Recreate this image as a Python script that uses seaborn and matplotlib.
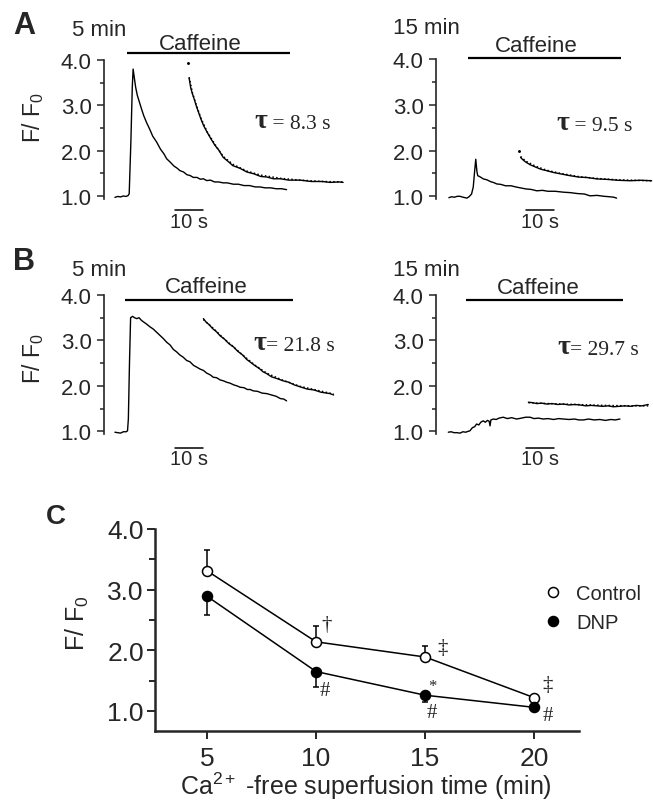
import numpy as np
import pandas as pd
import seaborn as sns
import matplotlib.pyplot as plt
from matplotlib.lines import Line2D

W, H = 653, 804
PX_PER_S = 2.8

# ---------------- traces (time in s, value F/F0) ----------------
# A, 5 min
a5_t = [3.9, 4.9, 5.9, 6.9, 7.9, 8.6, 9.0, 9.6, 10.1, 10.4, 10.8, 11.3, 11.9, 12.6, 13.4,
        14.2, 15.2, 16.2, 17.4, 18.8, 20.2, 21.4, 22.4, 23.6, 25.0, 26.2, 27.1, 28.4, 29.6,
        30.8, 31.9, 33.2, 34.4, 35.5, 36.7, 38.0, 39.5, 41.0, 42.5, 44.0, 46.2, 48.0, 50.0,
        52.0, 54.0, 55.7, 57.5, 59.5, 61.5, 63.5, 65.2]
a5_v = [0.97, 0.99, 0.98, 1.00, 0.99, 1.01, 1.05, 2.20, 3.40, 3.80, 3.62, 3.40, 3.22, 3.08, 2.92,
        2.77, 2.62, 2.49, 2.32, 2.19, 2.03, 1.93, 1.82, 1.75, 1.66, 1.61, 1.56, 1.53, 1.47,
        1.45, 1.41, 1.41, 1.37, 1.38, 1.34, 1.35, 1.31, 1.31, 1.29, 1.29, 1.26, 1.26, 1.23,
        1.23, 1.20, 1.20, 1.18, 1.18, 1.16, 1.16, 1.14]
a5_shift_t = [30.4, 31.0, 31.6, 32.2, 33.0, 33.8, 34.6, 35.6, 36.8, 38.2, 39.6, 41.0, 42.6,
              44.2, 46.0, 48.6, 51.0, 53.5, 56.0, 58.1, 60.5, 63.0, 66.0, 70.0, 74.0, 78.0,
              80.7, 84.0, 85.4]
a5_shift_v = [3.60, 3.38, 3.25, 3.14, 2.98, 2.84, 2.70, 2.55, 2.41, 2.26, 2.12, 2.01, 1.85,
              1.77, 1.67, 1.61, 1.53, 1.49, 1.43, 1.42, 1.38, 1.38, 1.35, 1.35, 1.32, 1.32,
              1.30, 1.31, 1.30]
a5_fit_t = [30.4, 31.6, 33.0, 34.6, 36.8, 39.6, 42.6, 46.0, 51.0, 56.0, 63.0, 70.0, 78.0, 85.4]
a5_fit_v = [3.62, 3.27, 3.00, 2.72, 2.42, 2.14, 1.87, 1.70, 1.55, 1.46, 1.39, 1.35, 1.32, 1.31]
a5_dot = (29.9, 3.93)

# A, 15 min
a15_t = [4.6, 5.6, 6.6, 7.6, 8.6, 9.6, 10.4, 11.0, 11.8, 12.7, 13.3, 13.8, 14.2, 14.6, 14.9,
         15.6, 16.9, 18.2, 19.5, 20.6, 21.7, 23.2, 24.8, 26.8, 28.8, 30.5, 32.2, 34.0, 36.0,
         38.0, 40.0, 42.5, 45.5, 48.0, 50.5, 53.0, 55.0, 57.5, 60.0, 62.0, 63.5, 64.5]
a15_v = [0.97, 0.99, 0.98, 1.00, 1.00, 0.98, 0.97, 0.96, 0.99, 1.05, 1.20, 1.55, 1.81, 1.55, 1.45,
         1.43, 1.38, 1.36, 1.32, 1.30, 1.27, 1.26, 1.23, 1.23, 1.20, 1.18, 1.16, 1.15, 1.12,
         1.13, 1.11, 1.11, 1.09, 1.08, 1.06, 1.05, 1.01, 1.02, 1.00, 0.99, 0.98, 0.96]
a15_shift_t = [30.2, 31.0, 32.0, 33.6, 35.5, 37.5, 39.5, 42.0, 44.5, 47.9, 51.0, 54.0, 57.4,
               61.0, 65.0, 69.3, 73.0, 77.0]
a15_shift_v = [1.85, 1.80, 1.75, 1.69, 1.64, 1.59, 1.56, 1.52, 1.49, 1.45, 1.42, 1.41, 1.38,
               1.37, 1.35, 1.34, 1.35, 1.34]
a15_fit_t = [30.2, 32.0, 35.5, 39.5, 44.5, 51.0, 57.4, 65.0, 77.0]
a15_fit_v = [1.87, 1.77, 1.66, 1.57, 1.50, 1.43, 1.39, 1.36, 1.34]
a15_dot = (29.6, 2.00)

# B, 5 min
b5_t = [3.9, 4.9, 5.9, 6.9, 7.9, 8.4, 8.7, 9.1, 9.5, 10.2, 10.9, 11.7, 12.5, 13.4, 14.3, 15.2,
        16.4, 17.6, 18.8, 20.0, 21.2, 22.4, 23.6, 24.8, 25.9, 27.1, 28.3, 29.5, 30.7, 32.0,
        33.2, 34.3, 35.5, 36.7, 38.0, 39.0, 40.2, 41.5, 42.7, 43.8, 45.0, 46.4, 47.5, 48.6,
        50.0, 51.2, 52.2, 53.3, 54.8, 56.5, 58.1, 59.8, 61.5, 63.0, 64.2, 65.2]
b5_v = [0.98, 0.97, 0.96, 0.99, 0.99, 1.01, 1.27, 2.50, 3.50, 3.53, 3.50, 3.48, 3.50, 3.44,
        3.40, 3.36, 3.30, 3.25, 3.18, 3.11, 3.04, 2.96, 2.90, 2.80, 2.75, 2.68, 2.63, 2.56,
        2.53, 2.45, 2.41, 2.37, 2.34, 2.28, 2.24, 2.19, 2.18, 2.13, 2.11, 2.08, 2.06, 2.02,
        2.00, 1.97, 1.96, 1.92, 1.92, 1.89, 1.88, 1.84, 1.83, 1.80, 1.77, 1.72, 1.71, 1.67]
b5_shift_t = [35.5, 36.5, 37.5, 38.8, 40.2, 41.5, 43.0, 44.6, 46.2, 47.8, 49.5, 51.0, 52.1,
              53.8, 55.5, 56.8, 58.1, 59.8, 61.8, 64.0, 66.0, 68.0, 70.0, 72.5, 75.0, 77.5,
              80.7, 82.0]
b5_shift_v = [3.48, 3.40, 3.35, 3.26, 3.19, 3.10, 3.03, 2.93, 2.86, 2.76, 2.68, 2.58, 2.53,
              2.45, 2.38, 2.31, 2.27, 2.20, 2.16, 2.11, 2.08, 2.02, 1.98, 1.93, 1.91, 1.86,
              1.83, 1.80]
b5_fit_t = [35.5, 38.8, 43.0, 46.2, 49.5, 53.8, 58.1, 64.0, 70.0, 75.0, 82.0]
b5_fit_v = [3.46, 3.28, 3.03, 2.86, 2.68, 2.46, 2.28, 2.12, 1.99, 1.92, 1.82]

# B, 15 min
b15_t = [4.4, 5.4, 6.4, 7.4, 8.6, 9.6, 10.6, 11.5, 12.1, 13.0, 13.8, 14.5, 15.3, 16.0, 16.9,
         17.6, 18.4, 19.0, 19.3, 19.6, 20.5, 21.5, 22.5, 24.0, 25.5, 27.0, 28.8, 30.5, 32.0,
         33.6, 35.0, 36.6, 38.3, 40.0, 42.0, 43.8, 45.5, 47.5, 49.5, 51.0, 52.6, 54.5, 56.5,
         58.5, 60.5, 62.5, 64.0, 65.7]
b15_v = [0.98, 0.99, 0.97, 0.97, 0.96, 0.99, 0.98, 1.00, 1.01, 1.08, 1.10, 1.16, 1.14, 1.20,
         1.23, 1.20, 1.24, 1.22, 1.12, 1.25, 1.27, 1.26, 1.29, 1.31, 1.28, 1.30, 1.27, 1.29,
         1.31, 1.31, 1.28, 1.29, 1.27, 1.28, 1.26, 1.28, 1.27, 1.26, 1.27, 1.25, 1.25, 1.27,
         1.25, 1.26, 1.24, 1.26, 1.25, 1.27]
b15_shift_t = [33.0, 34.5, 36.0, 37.8, 39.5, 41.5, 43.5, 45.5, 47.5, 49.5, 51.4, 53.5, 55.5,
               57.5, 59.5, 61.5, 63.3, 65.5, 67.5, 69.5, 71.5, 73.5, 75.8]
b15_shift_v = [1.64, 1.63, 1.61, 1.62, 1.60, 1.61, 1.59, 1.60, 1.58, 1.59, 1.58, 1.56, 1.57,
               1.56, 1.55, 1.56, 1.54, 1.55, 1.56, 1.55, 1.57, 1.56, 1.59]
b15_fit_t = [33.0, 40.0, 50.0, 60.0, 70.0, 75.8]
b15_fit_v = [1.63, 1.61, 1.59, 1.57, 1.56, 1.56]

# ---------------- panel C ----------------
c_time = [5, 10, 15, 20]
ctrl_mean = [3.31, 2.14, 1.89, 1.22]
ctrl_err = [0.34, 0.26, 0.18, 0.03]
dnp_mean = [2.89, 1.65, 1.26, 1.06]
dnp_err = [0.31, 0.26, 0.11, 0.02]
y_ticks = [1.0, 2.0, 3.0, 4.0]
y_minor = [1.5, 2.5, 3.5]

sns.set_style('ticks')
plt.rcParams['font.family'] = ['Liberation Sans', 'DejaVu Sans']
plt.rcParams['mathtext.fontset'] = 'custom'
plt.rcParams['mathtext.rm'] = 'Liberation Sans'
plt.rcParams['mathtext.it'] = 'Liberation Sans:italic'
plt.rcParams['mathtext.bf'] = 'Liberation Sans:bold'
SERIF = ['Liberation Serif', 'DejaVu Serif']

fig = plt.figure(figsize=(W / 100, H / 100), dpi=100)


def fx(x):
    return x / W


def fy(y):
    return 1 - y / H


def trace_ax(spine_x, y1, y4, right):
    # y1 / y4: pixel rows of the 1.0 and 4.0 ticks
    k = (y1 - y4) / 3.0
    lo, hi = 0.3, 4.5
    bot = y1 + (1 - lo) * k
    top = y4 - (hi - 4) * k
    ax = fig.add_axes([fx(spine_x), fy(bot), (right - spine_x) / W, (bot - top) / H])
    ax.set_xlim(0, (right - spine_x) / PX_PER_S)
    ax.set_ylim(lo, hi)
    ax.patch.set_alpha(0)
    for s in ['top', 'right', 'bottom']:
        ax.spines[s].set_visible(False)
    ax.spines['left'].set_bounds(0.94, 4.0)
    ax.spines['left'].set_linewidth(1.2)
    ax.set_xticks([])
    ax.set_yticks(y_ticks)
    ax.set_yticklabels([f'{v:.1f}' for v in y_ticks])
    ax.set_yticks(y_minor, minor=True)
    ax.tick_params(axis='y', which='major', length=5, width=1.1, labelsize=16, pad=4)
    ax.tick_params(axis='y', which='minor', length=3, width=1.1)
    return ax


def draw_traces(ax, t, v, st, sv, ft, fv, dot=None):
    sns.lineplot(x=t, y=v, ax=ax, color='black', lw=1.0, estimator=None, sort=False)
    sns.lineplot(x=st, y=sv, ax=ax, color='black', lw=1.0, estimator=None, sort=False)
    ax.plot(ft, fv, color='black', lw=1.1, ls=(0, (1, 1.5)))
    if dot is not None:
        ax.plot([dot[0]], [dot[1]], marker='o', ms=1.1, color='black')


def decorate(ax, spine_x, y1, y4, bar, bar_y, text_x, text_y, sb_x, sb_y, sbt_y):
    k = (y1 - y4) / 3.0
    val = lambda py: 1 + (y1 - py) / k
    t = lambda px: (px - spine_x) / PX_PER_S
    ax.plot([t(bar[0]), t(bar[1])], [val(bar_y)] * 2, color='black', lw=1.6,
            clip_on=False, solid_capstyle='butt')
    ax.text(t(text_x), val(text_y), 'Caffeine', ha='center', va='center', fontsize=16)
    ax.plot([t(sb_x), t(sb_x) + 10], [val(sb_y)] * 2, color='black', lw=1.1, clip_on=False)
    ax.text(t(sb_x) + 5, val(sbt_y), '10 s', ha='center', va='center', fontsize=14.5)


def tau_label(ax, x, y, rest):
    tt = fig.text(fx(x), fy(y), 'τ', fontsize=20, fontweight='bold', family=SERIF,
                  ha='left', va='baseline')
    ax.annotate(rest, xy=(1.0, 0.0), xycoords=tt, ha='left', va='bottom',
                fontsize=15.5, family=SERIF, annotation_clip=False)


# A, 5 min
ax = trace_ax(104, 197, 61, 350)
draw_traces(ax, a5_t, a5_v, a5_shift_t, a5_shift_v, a5_fit_t, a5_fit_v, a5_dot)
decorate(ax, 104, 197, 61, (127, 290), 54, 200, 44, 175, 211, 223)
tau_label(ax, 254, 128, ' = 8.3 s')

# A, 15 min
ax = trace_ax(436, 197.3, 60, 653)
draw_traces(ax, a15_t, a15_v, a15_shift_t, a15_shift_v, a15_fit_t, a15_fit_v, a15_dot)
decorate(ax, 436, 197.3, 60, (468, 621), 59, 536, 47, 526, 211, 223)
tau_label(ax, 556, 130, ' = 9.5 s')

# B, 5 min
ax = trace_ax(104, 432.3, 296, 350)
draw_traces(ax, b5_t, b5_v, b5_shift_t, b5_shift_v, b5_fit_t, b5_fit_v)
decorate(ax, 104, 432.3, 296, (125, 293), 300.7, 206, 288, 175, 449, 460)
tau_label(ax, 253, 350, '= 21.8 s')

# B, 15 min
ax = trace_ax(436, 432.3, 296, 653)
draw_traces(ax, b15_t, b15_v, b15_shift_t, b15_shift_v, b15_fit_t, b15_fit_v)
decorate(ax, 436, 432.3, 296, (466, 623), 300.7, 538, 289, 526, 449, 460)
tau_label(ax, 557, 354, '= 29.7 s')

# headers / labels
fig.text(fx(24), fy(26), 'A', fontsize=22, fontweight='bold', ha='center', va='center')
fig.text(fx(24), fy(262), 'B', fontsize=22, fontweight='bold', ha='center', va='center')
fig.text(fx(56), fy(517), 'C', fontsize=20, fontweight='bold', ha='center', va='center')
for (x, y, s) in [(99, 30, '5 min'), (426, 29, '15 min'), (99, 271, '5 min'), (426, 271, '15 min')]:
    fig.text(fx(x), fy(y), s, fontsize=16, ha='center', va='center')
for y in [117, 358]:
    fig.text(fx(33), fy(y), r'F/ F$_0$', fontsize=16.5, rotation=90, ha='center', va='center')

# ---------------- panel C ----------------
axc = fig.add_axes([fx(155), fy(732), 424 / W, 202 / H])
axc.errorbar(c_time, ctrl_mean, yerr=[np.zeros(4), ctrl_err], fmt='none', ecolor='black',
             elinewidth=1.1, capsize=2.5, capthick=1.1, zorder=2)
axc.errorbar(c_time, dnp_mean, yerr=[dnp_err, np.zeros(4)], fmt='none', ecolor='black',
             elinewidth=1.1, capsize=2.5, capthick=1.1, zorder=2)
sns.lineplot(x=c_time, y=ctrl_mean, ax=axc, color='black', linewidth=1.1, marker='o',
             markersize=7.2, markerfacecolor='white', markeredgecolor='black',
             markeredgewidth=1.1, zorder=3)
sns.lineplot(x=c_time, y=dnp_mean, ax=axc, color='black', linewidth=1.1, marker='o',
             markersize=7.2, markerfacecolor='black', markeredgecolor='black',
             markeredgewidth=1.1, zorder=3)
axc.set_xlim(2.61, 22.06)
axc.set_ylim(0.67, 4.0)
axc.set_xticks(c_time)
axc.set_xticklabels([str(v) for v in c_time])
axc.set_yticks(y_ticks)
axc.set_yticklabels([f'{v:.1f}' for v in y_ticks])
axc.set_yticks(y_minor, minor=True)
for s in ['top', 'right']:
    axc.spines[s].set_visible(False)
for s in ['left', 'bottom']:
    axc.spines[s].set_linewidth(1.8)
axc.tick_params(axis='both', which='major', length=6, width=1.4, labelsize=19)
axc.tick_params(axis='x', pad=5)
axc.tick_params(axis='y', pad=2)
axc.tick_params(axis='y', which='minor', length=4, width=1.4)
axc.patch.set_alpha(0)
axc.set_xlabel(r'Ca$^{2+}$ -free superfusion time (min)', fontsize=18)
axc.xaxis.set_label_coords(0.498, -0.19)
axc.set_ylabel(r'F/ F$_0$', fontsize=18)
axc.yaxis.set_label_coords(-0.151, 0.54)

for (x, y, s, fs) in [(10.50, 2.43, '†', 15), (10.41, 1.33, '#', 15), (15.78, 2.05, '‡', 15),
                      (15.32, 1.41, '*', 12), (15.32, 0.98, '#', 15), (20.64, 1.43, '‡', 15),
                      (20.64, 0.92, '#', 15)]:
    axc.text(x, y, s, fontsize=fs, family=SERIF, ha='center', va='center')

handles = [Line2D([], [], marker='o', ls='none', markerfacecolor='white', markeredgecolor='black',
                  markersize=7.2, markeredgewidth=1.1),
           Line2D([], [], marker='o', ls='none', markerfacecolor='black', markeredgecolor='black',
                  markersize=7.2, markeredgewidth=1.1)]
axc.legend(handles, ['Control', 'DNP'], loc='center left', bbox_to_anchor=(fx(547), fy(609)),
           bbox_transform=fig.transFigure, frameon=False, fontsize=14.5, handlelength=0.6,
           handletextpad=0.85, labelspacing=0.5, borderpad=0, borderaxespad=0)

fig.savefig('out.png', dpi=100)
